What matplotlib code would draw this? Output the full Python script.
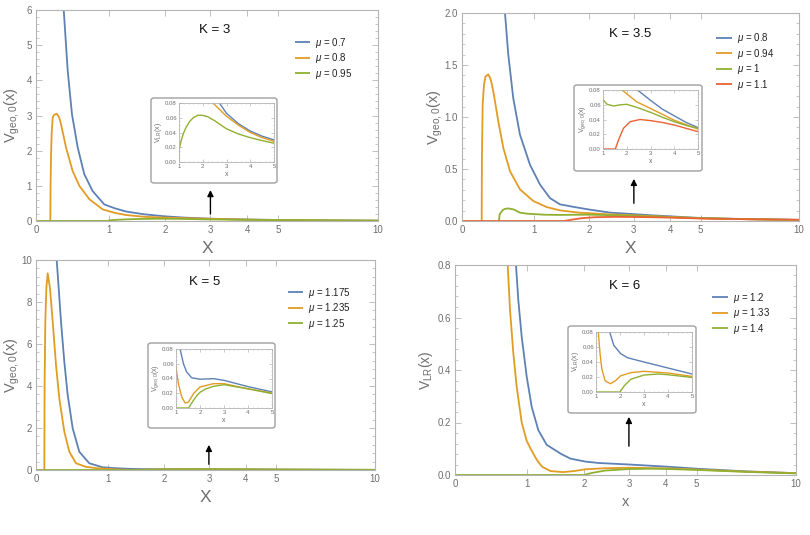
import matplotlib
matplotlib.use("Agg")
import matplotlib.pyplot as plt
import numpy as np
from matplotlib.patches import FancyBboxPatch

plt.rcParams["font.family"] = ["Liberation Sans", "DejaVu Sans"]
plt.rcParams["mathtext.fontset"] = "custom"
plt.rcParams["mathtext.rm"] = "Liberation Sans"
plt.rcParams["mathtext.it"] = "Liberation Sans:italic"

W, H = 810, 535
BLUE, ORANGE, GREEN, RED = "#5E81B5", "#E19C24", "#8FB032", "#EB6235"
FRAME = "#b4b4b4"
TXT = "#6e6e6e"
C = 7.0  # x-axis squash constant

# ---------------- K = 3 ----------------
k3_blue_x = [0.350, 0.404, 0.462, 0.541, 0.634, 0.756, 0.932, 1.1, 1.282, 1.6, 2.0, 2.4, 2.7, 3.0, 3.5, 4.0, 4.5, 5.0, 7.0, 10.0]
k3_blue_y = [6.02, 4.27, 3.03, 2.09, 1.33, 0.85, 0.47, 0.36, 0.27, 0.19, 0.132, 0.097, 0.080, 0.066, 0.052, 0.042, 0.035, 0.030, 0.018, 0.010]
k3_orange_x = [0.177, 0.180, 0.186, 0.195, 0.207, 0.225, 0.258, 0.290, 0.315, 0.381, 0.471, 0.564, 0.707, 0.907, 1.1, 1.282, 1.6, 2.0, 2.4,
               3.0, 3.5, 4.0, 4.5, 5.0, 7.0, 10.0]
k3_orange_y = [0.0, 1.0, 1.9, 2.55, 2.94, 3.02, 3.05, 2.95, 2.75, 2.09, 1.42, 1.00, 0.62, 0.33, 0.23, 0.17, 0.12, 0.095, 0.081,
               0.062, 0.050, 0.040, 0.033, 0.028, 0.017, 0.009]
k3_green_x = [0.0, 0.99, 1.0, 1.03, 1.1, 1.2, 1.3, 1.45, 1.6, 1.8, 2.0, 2.2, 2.5, 3.0, 3.5, 4.0, 4.5, 5.0, 7.0, 10.0]
k3_green_y = [0.0, 0.0, 0.0133, 0.021, 0.030, 0.040, 0.047, 0.055, 0.060, 0.0635, 0.0632, 0.0615, 0.056, 0.045, 0.038, 0.033, 0.029, 0.0255, 0.016, 0.009]

# ---------------- K = 3.5 ----------------
k35_blue_x = [0.568, 0.615, 0.688, 0.788, 0.943, 1.104, 1.27, 1.445, 1.7, 2.0, 2.45, 3.0, 3.5, 4.0, 4.5, 5.0, 7.0, 10.0]
k35_blue_y = [2.0, 1.6, 1.18, 0.83, 0.54, 0.35, 0.22, 0.16, 0.135, 0.11, 0.080, 0.066, 0.054, 0.045, 0.036, 0.029, 0.018, 0.011]
k35_orange_x = [0.249, 0.252, 0.262, 0.2795, 0.30, 0.337, 0.37, 0.405, 0.4735, 0.544, 0.640, 0.788, 0.995, 1.214, 1.445, 1.8, 2.42,
                3.0, 4.0, 5.0, 7.0, 10.0]
k35_orange_y = [0.0, 0.6, 1.12, 1.31, 1.39, 1.41, 1.36, 1.246, 0.958, 0.703, 0.479, 0.304, 0.192, 0.134, 0.102, 0.080, 0.064,
                0.055, 0.039, 0.027, 0.017, 0.010]
k35_green_x = [0.483, 0.492, 0.535, 0.57, 0.615, 0.70, 0.788, 0.9, 1.0, 1.17, 1.45, 1.7, 2.0, 2.42, 3.0, 3.5, 4.0, 4.5, 5.0, 7.0, 10.0]
k35_green_y = [0.0, 0.064, 0.105, 0.117, 0.121, 0.11, 0.08, 0.07, 0.067, 0.0606, 0.0583, 0.0598, 0.0606, 0.0565, 0.0497, 0.043,
               0.037, 0.032, 0.028, 0.017, 0.010]
k35_red_x = [0.0, 1.52, 1.65, 1.86, 2.14, 2.56, 3.0, 3.5, 4.0, 4.5, 5.0, 7.0, 10.0]
k35_red_y = [0.0, 0.0, 0.012, 0.028, 0.037, 0.040, 0.0385, 0.036, 0.0325, 0.028, 0.0235, 0.017, 0.012]

# ---------------- K = 5 ----------------
k5_blue_x = [0.2606, 0.2871, 0.3176, 0.3614, 0.4074, 0.4762, 0.5684, 0.7135, 0.916, 1.05, 1.17, 1.31, 1.44, 1.65, 2.0, 2.56,
             3.0, 4.0, 5.0, 7.0, 10.0]
k5_blue_y = [10.0, 8.65, 7.06, 5.16, 3.57, 1.98, 0.87, 0.32, 0.13, 0.10, 0.080, 0.060, 0.049, 0.041, 0.039, 0.0398,
             0.0375, 0.029, 0.0218, 0.013, 0.007]
k5_orange_x = [0.1028, 0.106, 0.115, 0.128, 0.1448, 0.1743, 0.209, 0.2517, 0.2953, 0.3614, 0.4297, 0.522, 0.665, 0.813, 0.916,
               1.0, 1.1, 1.24, 1.38, 1.52, 1.73, 2.0, 2.56, 3.0, 4.0, 5.0, 7.0, 10.0]
k5_orange_y = [0.0, 4.0, 7.06, 8.65, 9.37, 8.65, 7.06, 5.0, 3.41, 1.83, 0.87, 0.32, 0.15, 0.09, 0.07,
               0.0547, 0.033, 0.0149, 0.0068, 0.008, 0.0195, 0.0285, 0.033, 0.033, 0.026, 0.0203, 0.012, 0.006]
k5_green_x = [0.0, 1.52, 1.6, 1.73, 1.85, 2.0, 2.25, 2.56, 3.0, 4.0, 5.0, 7.0, 10.0]
k5_green_y = [0.0, 0.0, 0.004, 0.0104, 0.016, 0.0213, 0.026, 0.0294, 0.0316, 0.026, 0.0195, 0.012, 0.006]

# ---------------- K = 6 ----------------
k6_blue_x = [0.823, 0.858, 0.910, 0.988, 1.067, 1.175, 1.315, 1.459, 1.57, 1.74, 2.03, 2.31, 3.0, 4.0, 5.0, 7.0, 10.0]
k6_blue_y = [0.8, 0.667, 0.527, 0.375, 0.26, 0.171, 0.115, 0.095, 0.08, 0.0624, 0.0511, 0.0457, 0.040, 0.032, 0.024, 0.014, 0.007]
k6_orange_x = [0.700, 0.734, 0.783, 0.833, 0.910, 0.988, 1.05, 1.12, 1.17, 1.24, 1.38, 1.6, 1.81, 2.03, 2.45, 3.0, 4.0, 5.0, 7.0, 10.0]
k6_orange_y = [0.8, 0.629, 0.464, 0.337, 0.2, 0.13, 0.1, 0.07, 0.051, 0.031, 0.015, 0.011, 0.015, 0.0217, 0.0258, 0.0276,
               0.0253, 0.0208, 0.013, 0.007]
k6_green_x = [0.0, 2.0, 2.17, 2.45, 3.0, 3.6, 4.0, 5.0, 7.0, 10.0]
k6_green_y = [0.0, 0.0, 0.0081, 0.017, 0.0226, 0.024, 0.023, 0.0194, 0.012, 0.006]

X_TICKS = [0, 1, 2, 3, 4, 5, 10]


def fwd(x):
    x = np.asarray(x, dtype=float)
    return x / (x + C)


def inv(y):
    y = np.clip(np.asarray(y, dtype=float), -0.5, 0.999)
    return C * y / (1 - y)


def px_rect(x0, y0, x1, y1):
    return [x0 / W, 1 - y1 / H, (x1 - x0) / W, (y1 - y0) / H]


def style_frame(ax, lw=0.8):
    for s in ax.spines.values():
        s.set_color(FRAME)
        s.set_linewidth(lw)


def main_panel(fig, rect, curves, ymax, yticks, ylabel, title, title_pos, leg_pos, ylab_x,
               xlabel="X", xlabel_size=12.5, ylabel_size=10.5):
    ax = fig.add_axes(px_rect(*rect))
    for x, y, c, lab in curves:
        ax.plot(x, y, color=c, lw=1.3, label=lab, solid_capstyle="butt", solid_joinstyle="round")
    ax.set_xscale("function", functions=(fwd, inv))
    ax.set_xlim(0, 10)
    ax.set_ylim(0, ymax)
    ax.set_xticks(X_TICKS)
    ax.set_xticklabels([str(t) for t in X_TICKS])
    ax.set_yticks(yticks)
    ax.set_yticklabels([f"{t:g}" if ymax > 3 else f"{t:.1f}" for t in yticks])
    ax.yaxis.set_minor_locator(matplotlib.ticker.AutoMinorLocator(5))
    ax.xaxis.set_minor_locator(matplotlib.ticker.NullLocator())
    ax.tick_params(which="both", direction="in", top=True, right=True, colors=FRAME,
                   labelcolor=TXT, labelsize=7, pad=3)
    ax.tick_params(which="major", length=4, width=0.6)
    ax.tick_params(which="minor", length=2, width=0.5)
    style_frame(ax)
    ax.set_xlabel(xlabel, fontsize=xlabel_size, color=TXT, labelpad=4)
    ax.set_ylabel(ylabel, fontsize=ylabel_size, color=TXT)
    ax.yaxis.set_label_coords(ylab_x, 0.5)
    ax.text(title_pos[0], title_pos[1], title, transform=ax.transAxes, ha="center", va="center",
            fontsize=9.5, color="#111111")
    ax.legend(loc="upper left", bbox_to_anchor=leg_pos, frameon=False, fontsize=7,
              handlelength=1.6, handletextpad=0.5, labelspacing=0.15, borderaxespad=0, borderpad=0,
              labelcolor="#222222")
    return ax


def inset(fig, box, rect, curves, ylabel):
    patch = FancyBboxPatch((box[0] / W, 1 - box[3] / H), (box[2] - box[0]) / W, (box[3] - box[1]) / H,
                           boxstyle="round,pad=0,rounding_size=0.004", transform=fig.transFigure,
                           facecolor="white", edgecolor="#a0a0a0", lw=1.0, zorder=5)
    fig.patches.append(patch)
    ax = fig.add_axes(px_rect(*rect))
    ax.set_zorder(6)
    for x, y, c, _ in curves:
        ax.plot(x, y, color=c, lw=1.0, solid_joinstyle="round")
    ax.set_xlim(1, 5)
    ax.set_ylim(0, 0.08)
    ax.set_xticks([1, 2, 3, 4, 5])
    ax.set_yticks([0, 0.02, 0.04, 0.06, 0.08])
    ax.set_yticklabels(["0.00", "0.02", "0.04", "0.06", "0.08"])
    ax.xaxis.set_minor_locator(matplotlib.ticker.AutoMinorLocator(5))
    ax.yaxis.set_minor_locator(matplotlib.ticker.AutoMinorLocator(4))
    ax.tick_params(which="both", direction="in", top=True, right=True, colors=FRAME,
                   labelcolor=TXT, labelsize=4.3, pad=1.5)
    ax.tick_params(which="major", length=2, width=0.5)
    ax.tick_params(which="minor", length=1, width=0.4)
    style_frame(ax, 0.6)
    ax.set_xlabel("x", fontsize=5, color=TXT, labelpad=1.5)
    ax.set_ylabel(ylabel, fontsize=5, color=TXT, labelpad=1)
    return ax


def arrow(ax, y0, y1):
    ax.annotate("", xy=(3, y1), xytext=(3, y0), xycoords=ax.get_xaxis_transform(),
                textcoords=ax.get_xaxis_transform(),
                arrowprops=dict(arrowstyle="-|>", color="black", lw=1.0, mutation_scale=9))


VGEO = r"$\mathrm{V_{geo,0}(x)}$"
VLR = r"$\mathrm{V_{LR}(x)}$"

fig = plt.figure(figsize=(W / 100, H / 100), dpi=100)

k3 = [(k3_blue_x, k3_blue_y, BLUE, r"$\mu$ = 0.7"),
      (k3_orange_x, k3_orange_y, ORANGE, r"$\mu$ = 0.8"),
      (k3_green_x, k3_green_y, GREEN, r"$\mu$ = 0.95")]
ax1 = main_panel(fig, (36, 10, 378, 221), k3, 6, [0, 1, 2, 3, 4, 5, 6], VGEO, "K = 3",
                 (0.523, 0.905), (0.757, 0.878), -0.042)
arrow(ax1, 0.02, 0.16)
inset(fig, (151, 98, 277, 183), (179, 103, 274, 162), k3, VLR)

k35 = [(k35_blue_x, k35_blue_y, BLUE, r"$\mu$ = 0.8"),
       (k35_orange_x, k35_orange_y, ORANGE, r"$\mu$ = 0.94"),
       (k35_green_x, k35_green_y, GREEN, r"$\mu$ = 1"),
       (k35_red_x, k35_red_y, RED, r"$\mu$ = 1.1")]
ax2 = main_panel(fig, (462, 13, 799, 221), k35, 2.0, [0, 0.5, 1.0, 1.5, 2.0], VGEO, "K = 3.5",
                 (0.499, 0.899), (0.754, 0.912), -0.05)
arrow(ax2, 0.072, 0.216)
inset(fig, (574, 85, 702, 171), (603, 90, 698, 149), k35, VGEO)

k5 = [(k5_blue_x, k5_blue_y, BLUE, r"$\mu$ = 1.175"),
      (k5_orange_x, k5_orange_y, ORANGE, r"$\mu$ = 1.235"),
      (k5_green_x, k5_green_y, GREEN, r"$\mu$ = 1.25")]
ax3 = main_panel(fig, (36, 260, 375, 470), k5, 10, [0, 2, 4, 6, 8, 10], VGEO, "K = 5",
                 (0.4985, 0.895), (0.743, 0.878), -0.042)
arrow(ax3, 0.014, 0.133)
inset(fig, (148, 343, 275, 428), (176, 349, 272, 408), k5, VGEO)

k6 = [(k6_blue_x, k6_blue_y, BLUE, r"$\mu$ = 1.2"),
      (k6_orange_x, k6_orange_y, ORANGE, r"$\mu$ = 1.33"),
      (k6_green_x, k6_green_y, GREEN, r"$\mu$ = 1.4")]
ax4 = main_panel(fig, (455, 265, 796, 475), k6, 0.8, [0, 0.2, 0.4, 0.6, 0.8], VLR, "K = 6",
                 (0.4985, 0.9), (0.754, 0.878), -0.06, xlabel="x", xlabel_size=10.5, ylabel_size=10)
arrow(ax4, 0.124, 0.29)
inset(fig, (568, 326, 696, 413), (596, 332, 692, 392), k6, VLR)

fig.savefig("out.png", dpi=100, facecolor="white")
